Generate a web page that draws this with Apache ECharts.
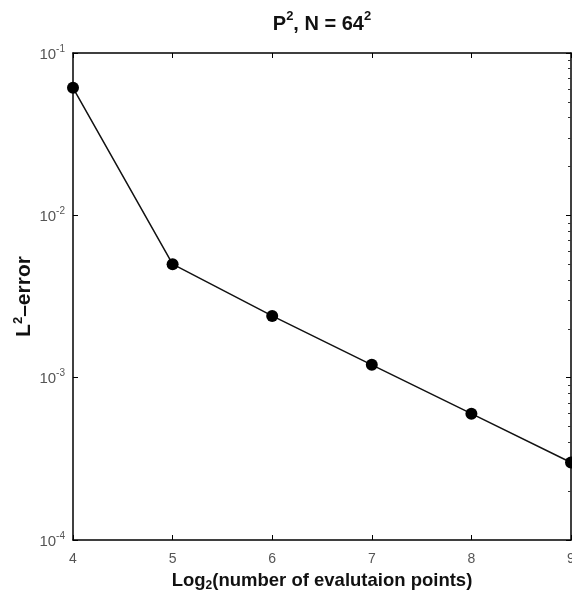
<!DOCTYPE html>
<html>
<head>
<meta charset="utf-8">
<style>
  html, body { margin: 0; padding: 0; background: #fff; }
  #chart { width: 572px; height: 600px; }
</style>
<script src="https://cdn.jsdelivr.net/npm/echarts@6/dist/echarts.min.js"></script>
</head>
<body>
<div id="chart"></div>
<script>
// Number of evaluation points, as log2
const levels = [4, 5, 6, 7, 8, 9];
// L2 error at each level
const l2Error = [0.061, 0.0050, 0.0024, 0.0012, 0.0006, 0.0003];
// Decade exponents shown on the y axis
const decadeExponents = ['-1', '-2', '-3', '-4'];

const font = 'Liberation Sans, Arial, sans-serif';
const boldFont = '"Liberation Sans", Arial, sans-serif';
const tickColor = '#555';

const chart = echarts.init(document.getElementById('chart'));

const expLabel = (v) => {
  const e = Math.round(Math.log10(v));
  if (!decadeExponents.includes(String(e))) return '';
  return '{b|10}{s|' + e + '}';
};

chart.setOption({
  animation: false,
  title: {
    text: '{t|P}{ts|2}{t|, N = 64}{ts|2}',
    left: 317,
    top: 5,
    textAlign: 'center',
    textStyle: {
      rich: {
        t: { fontFamily: boldFont, fontWeight: 'bold', fontSize: 20, color: '#111', lineHeight: 24, verticalAlign: 'bottom' },
        ts: { fontFamily: boldFont, fontWeight: 'bold', fontSize: 13, color: '#111', lineHeight: 13, verticalAlign: 'top' }
      }
    }
  },
  grid: { left: 73, right: 1, top: 53, bottom: 60, containLabel: false, outerBoundsMode: 'none' },
  xAxis: [
    {
      type: 'value', min: 4, max: 9, interval: 1,
      axisLine: { lineStyle: { color: '#000', width: 1.5 } },
      axisTick: { inside: true, length: 5, lineStyle: { color: '#000' } },
      axisLabel: { fontFamily: font, fontSize: 14, color: tickColor, margin: 12 },
      splitLine: { show: false },
      name: '{n|Log}{sub|2}{n|(number of evalutaion points)}',
      nameLocation: 'middle',
      nameGap: 31,
      nameMoveOverlap: false,
      nameTextStyle: {
        rich: {
          n: { fontFamily: boldFont, fontWeight: 'bold', fontSize: 18.5, color: '#111', lineHeight: 21, verticalAlign: 'top' },
          sub: { fontFamily: boldFont, fontWeight: 'bold', fontSize: 12, color: '#111', lineHeight: 12, verticalAlign: 'bottom' }
        }
      }
    },
    {
      type: 'value', min: 4, max: 9, interval: 1, position: 'top',
      axisLine: { show: true, lineStyle: { color: '#000', width: 1.5 } },
      axisTick: { inside: true, length: 5, lineStyle: { color: '#000' } },
      axisLabel: { show: false },
      splitLine: { show: false }
    }
  ],
  yAxis: [
    {
      type: 'log', logBase: 10, min: 1e-4, max: 1e-1,
      axisLine: { show: true, lineStyle: { color: '#000', width: 1.5 } },
      axisTick: { show: true, inside: true, length: 5, lineStyle: { color: '#000' } },
      minorTick: { show: false },
      axisLabel: {
        margin: 8,
        formatter: expLabel,
        rich: {
          b: { fontFamily: font, fontSize: 15, color: tickColor, lineHeight: 18, verticalAlign: 'bottom' },
          s: { fontFamily: font, fontSize: 10, color: tickColor, lineHeight: 10, verticalAlign: 'top' }
        }
      },
      splitLine: { show: false },
      name: '{n|L}{s|2}{n|\u2013error}',
      nameLocation: 'middle',
      nameGap: 38,
      nameRotate: 90,
      nameMoveOverlap: false,
      nameTextStyle: {
        rich: {
          n: { fontFamily: boldFont, fontWeight: 'bold', fontSize: 21, color: '#111', lineHeight: 23, verticalAlign: 'bottom' },
          s: { fontFamily: boldFont, fontWeight: 'bold', fontSize: 13, color: '#111', lineHeight: 13, verticalAlign: 'top' }
        }
      }
    },
    {
      type: 'log', logBase: 10, min: 1e-4, max: 1e-1, position: 'right',
      axisLine: { show: true, lineStyle: { color: '#000', width: 1.5 } },
      axisTick: { show: true, inside: true, length: 5, lineStyle: { color: '#000' } },
      minorTick: { show: true, splitNumber: 9, length: 3, lineStyle: { color: '#333' } },
      axisLabel: { show: false },
      splitLine: { show: false }
    }
  ],
  series: [
    {
      type: 'line',
      data: levels.map((x, i) => [x, l2Error[i]]),
      symbol: 'circle',
      symbolSize: 12,
      itemStyle: { color: '#000' },
      lineStyle: { color: '#111', width: 1.5 },
      clip: false
    }
  ]
});
</script>
</body>
</html>
